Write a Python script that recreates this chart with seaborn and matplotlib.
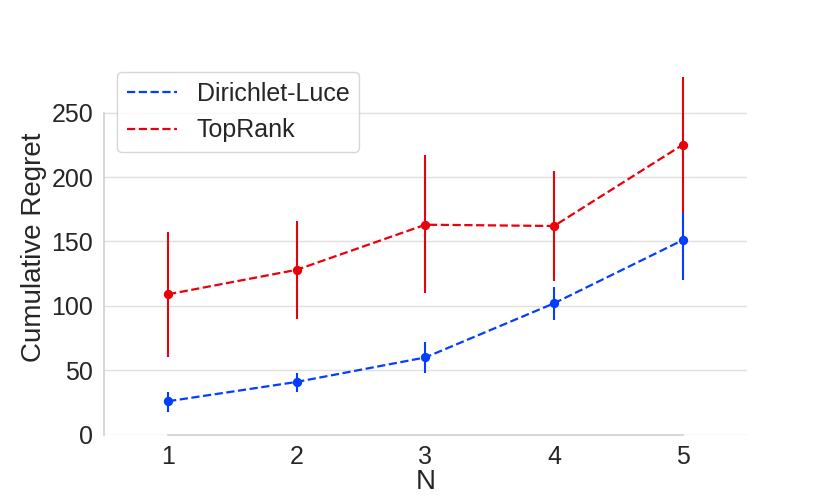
import numpy as np
import pandas as pd
import matplotlib
matplotlib.use("Agg")
import matplotlib.pyplot as plt
from matplotlib.lines import Line2D
import seaborn as sns

n_vals = [1, 2, 3, 4, 5]
series = ["Dirichlet-Luce", "TopRank"]
dl_mean = [26, 41, 60, 102, 151]
dl_lo = [18, 33, 48, 89, 120]
dl_hi = [33, 48, 72, 115, 172]
tr_mean = [109, 128, 163, 162, 225]
tr_lo = [60, 90, 110, 119, 172]
tr_hi = [157, 166, 217, 205, 278]

sns.set_theme(style="whitegrid", rc={"grid.color": "#e0e0e0"})
plt.rcParams['font.family'] = ['Liberation Sans', 'DejaVu Sans']
colors = ["#023eff", "#e8000b"]

df = pd.DataFrame({
    "N": n_vals * 2,
    "regret": dl_mean + tr_mean,
    "method": [series[0]] * 5 + [series[1]] * 5,
})

fig, ax = plt.subplots(figsize=(8.3, 4.98), dpi=100)
fig.subplots_adjust(left=0.125, right=0.9, bottom=0.127, top=0.88)

sns.pointplot(data=df, x="N", y="regret", hue="method", palette=colors,
              errorbar=None, linestyles="--", markers="o", markersize=5.5,
              linewidth=1.6, ax=ax, legend=False)

pos = np.arange(len(n_vals))
ax.vlines(pos, dl_lo, dl_hi, color=colors[0], lw=1.5, zorder=1)
ax.vlines(pos, tr_lo, tr_hi, color=colors[1], lw=1.5, zorder=1)

ax.set_ylim(0, 291)
ax.set_xlim(-0.5, 4.5)
ax.set_yticks([0, 50, 100, 150, 200, 250])
ax.set_xlabel("N", fontsize=20, labelpad=0)
ax.set_ylabel("Cumulative Regret", fontsize=20, labelpad=3)
ax.tick_params(labelsize=18, colors="#262626", pad=1.5)
sns.despine(trim=True)
for s in ax.spines.values():
    s.set_color("#d0d0d0")
    s.set_linewidth(1.2)

handles = [Line2D([], [], color=c, ls="--", lw=1.6) for c in colors]
ax.legend(handles, series, loc="upper left", fontsize=18,
          bbox_to_anchor=(0.02, 0.968), borderaxespad=0, frameon=True,
          handlelength=2.0, handletextpad=0.8)

fig.savefig("out.png")
